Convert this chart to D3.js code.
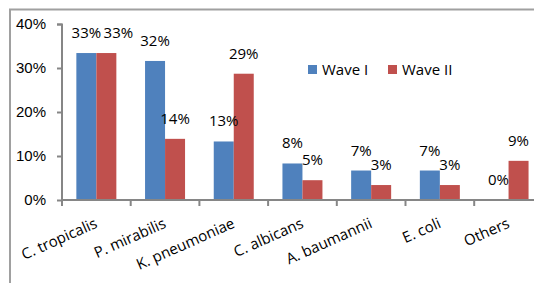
<!DOCTYPE html>
<html>
<head>
<meta charset="utf-8">
<script src="https://cdn.jsdelivr.net/npm/d3@7"></script>
<style>
  body { margin: 0; background: #fff; }
  svg { display: block; font-family: "Open Sans", sans-serif; }
  .axis path, .axis line { stroke: #868686; stroke-width: 2; }
  .axis text { fill: #000; font-size: 15px; }
  .label { font-size: 15px; fill: #000; }
</style>
</head>
<body>
<script>
//W and H
var w = 534;
var h = 283;

//data
var categories = ["C. tropicalis", "P. mirabilis", "K. pneumoniae", "C. albicans", "A. baumannii", "E. coli", "Others"];
var series = ["Wave I", "Wave II"];
var waveI = [33.4, 31.6, 13.3, 8.3, 6.7, 6.7, 0];
var waveII = [33.4, 13.9, 28.7, 4.5, 3.4, 3.4, 8.9];
var waveILabels = ["33%", "32%", "13%", "8%", "7%", "7%", "0%"];
var waveIILabels = ["33%", "14%", "29%", "5%", "3%", "3%", "9%"];
var yTicks = [0, 10, 20, 30, 40];
var colors = ["#4F81BD", "#C0504D"];

var rows = categories.map(function(c, i) {
    return {cat: c, vals: [waveI[i], waveII[i]], labels: [waveILabels[i], waveIILabels[i]]};
});

var svg = d3.select("body")
    .append("svg")
    .attr("width", w)
    .attr("height", h);

//chart border
svg.append("rect")
    .attr("x", 10)
    .attr("y", 9.5)
    .attr("width", w)
    .attr("height", h)
    .attr("fill", "none")
    .attr("stroke", "#a0a0a0")
    .attr("stroke-width", 2);

//Scales
var x = d3.scaleBand()
    .domain(categories)
    .range([62, 62 + 7 * 68.7])
    .paddingInner(0)
    .paddingOuter(0);

var x1 = d3.scaleBand()
    .domain([0, 1])
    .range([x.bandwidth() / 2 - 20, x.bandwidth() / 2 + 20]);

var y = d3.scaleLinear()
    .domain([0, 40])
    .range([200, 24]);

//bars
var groups = svg.selectAll("g.cat")
    .data(rows)
    .enter()
    .append("g")
    .attr("class", "cat")
    .attr("transform", function(d) { return "translate(" + x(d.cat) + ",0)"; });

groups.selectAll("rect")
    .data(function(d) { return d.vals.map(function(v, k) { return {v: v, k: k}; }); })
    .enter()
    .append("rect")
    .attr("x", function(d) { return x1(d.k); })
    .attr("y", function(d) { return y(d.v); })
    .attr("width", x1.bandwidth())
    .attr("height", function(d) { return y(0) - y(d.v); })
    .attr("fill", function(d) { return colors[d.k]; });

//value labels (the red 33% was nudged right in the original so it doesn't collide)
groups.selectAll("text")
    .data(function(d, i) { return d.vals.map(function(v, k) { return {v: v, k: k, t: d.labels[k], shift: (i == 0 && k == 1) ? 12 : 0}; }); })
    .enter()
    .append("text")
    .attr("class", "label")
    .attr("text-anchor", "middle")
    .attr("x", function(d) { return x1(d.k) + x1.bandwidth() / 2 + d.shift; })
    .attr("y", function(d) { return y(d.v) - 15; })
    .text(function(d) { return d.t; });

//axes
var yAxis = d3.axisLeft(y)
    .tickValues(yTicks)
    .tickSize(5)
    .tickPadding(11)
    .tickFormat(function(d) { return d + "%"; });

svg.append("g")
    .attr("class", "axis")
    .attr("transform", "translate(62,0)")
    .call(yAxis)
    .call(function(g) { g.select(".domain").attr("d", "M-5,24.5H0V200"); });

var xAxis = svg.append("g")
    .attr("class", "axis")
    .attr("transform", "translate(0,200)");

xAxis.append("line")
    .attr("x1", 62).attr("x2", w)
    .attr("y1", 0).attr("y2", 0);

xAxis.selectAll("line.tick")
    .data(categories)
    .enter()
    .append("line")
    .attr("class", "tick")
    .attr("x1", function(d) { return x(d); })
    .attr("x2", function(d) { return x(d); })
    .attr("y1", 0)
    .attr("y2", 6);

xAxis.selectAll("text")
    .data(categories)
    .enter()
    .append("text")
    .attr("text-anchor", "end")
    .attr("transform", function(d) {
        return "translate(" + (x(d) + x.bandwidth() / 2 + 2) + ",27) rotate(-24)";
    })
    .text(function(d) { return d; });

//legend
var legend = svg.append("g")
    .attr("transform", "translate(308,65)");

var items = legend.selectAll("g")
    .data(series)
    .enter()
    .append("g")
    .attr("transform", function(d, i) { return "translate(" + (i * 80) + ",0)"; });

items.append("rect")
    .attr("width", 9)
    .attr("height", 9)
    .attr("fill", function(d, i) { return colors[i]; });

items.append("text")
    .attr("class", "label")
    .attr("x", 14)
    .attr("y", 10)
    .text(function(d) { return d; });
</script>
</body>
</html>
